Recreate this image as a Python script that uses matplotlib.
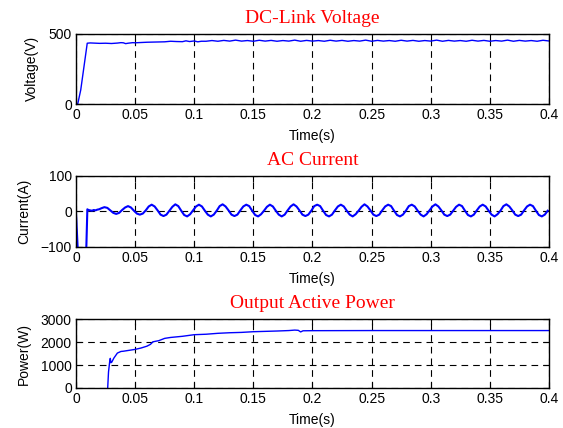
import matplotlib
matplotlib.use("Agg")
import matplotlib.pyplot as plt
import numpy as np

# --- DC-link voltage (V) ---
v_t_early = [0, 0.0015, 0.004, 0.0095, 0.012, 0.02, 0.025, 0.03, 0.035, 0.038,
             0.04, 0.042, 0.044, 0.048, 0.05, 0.055, 0.06, 0.065, 0.07, 0.075,
             0.08, 0.085, 0.09, 0.093, 0.096, 0.1, 0.103, 0.106, 0.11]
v_early = [0, 2, 100, 433, 435, 432, 433, 431, 434, 437,
           436, 430, 433, 437, 436, 438, 440, 441, 442, 443,
           447, 445, 444, 450, 445, 449, 443, 447, 447]
v_ripple = [452, 447, 453, 448, 455, 448, 452, 447, 454, 448,
            453, 447, 452, 448, 455, 447, 453, 448, 452, 447,
            454, 448, 453, 447, 452, 448, 455, 447, 453, 448,
            452, 447, 454, 448, 453, 447, 452, 448, 455, 447,
            453, 448, 452, 447, 454, 448, 453, 447, 452, 448,
            455, 447, 453, 448, 452, 447, 454, 449]

# --- AC current (A) ---
i_t_early = [0, 0.0018, 0.0085, 0.0089, 0.0096, 0.0105, 0.012, 0.0135, 0.015,
             0.0165, 0.018, 0.0195, 0.0215, 0.024, 0.0265, 0.029, 0.0315, 0.034,
             0.0365, 0.039, 0.0415, 0.044, 0.0465, 0.049, 0.0515, 0.054, 0.0565,
             0.059]
i_early = [-5, -130, -130, -80, 6, 4, 3, 2, 4,
           3, 5, 6, 9, 12, 10, 3, -4, -7,
           -4, 4, 11, 15, 11, 2, -6, -9, -6,
           3]
i_cycles = [
    [14, 19, 14, 3, -9, -13, -9, 2],
    [13, 20, 15, 2, -10, -14, -8, 3],
    [14, 19, 14, 2, -9, -14, -9, 2],
    [15, 20, 14, 3, -9, -13, -9, 3],
    [14, 19, 15, 2, -10, -14, -8, 2],
    [13, 19, 14, 2, -9, -14, -9, 3],
    [14, 20, 14, 3, -9, -13, -9, 2],
    [15, 19, 15, 2, -10, -14, -9, 3],
    [14, 19, 14, 2, -9, -14, -8, 2],
    [13, 20, 14, 3, -9, -13, -9, 3],
    [14, 19, 15, 2, -10, -14, -9, 2],
    [15, 19, 14, 2, -9, -14, -8, 3],
    [14, 20, 14, 3, -9, -13, -9, 2],
    [13, 19, 15, 2, -10, -14, -9, 3],
    [14, 19, 14, 2, -9, -14, -8, 2],
    [15, 20, 14, 3, -9, -13, -9, 3],
    [14, 19, 15, 2, -10, -14, -9, 2],
]

# --- Output active power (W) ---
p_t = [0.0268, 0.0275, 0.0285, 0.029, 0.0295, 0.0302, 0.032, 0.035, 0.038,
       0.04, 0.045, 0.05, 0.055, 0.06, 0.063, 0.065, 0.07, 0.075, 0.08,
       0.09, 0.1, 0.11, 0.12, 0.13, 0.14, 0.15, 0.16, 0.17, 0.18,
       0.185, 0.188, 0.19, 0.192, 0.2, 0.25, 0.3, 0.35, 0.4]
p_w = [0, 700, 1150, 1290, 1100, 1120, 1300, 1520, 1590,
       1600, 1640, 1680, 1740, 1820, 1900, 2010, 2060, 2160, 2200,
       2250, 2320, 2340, 2380, 2405, 2420, 2450, 2465, 2480, 2500,
       2520, 2510, 2440, 2490, 2495, 2500, 2500, 2500, 2500]

x_ticks = [0, 0.05, 0.1, 0.15, 0.2, 0.25, 0.3, 0.35, 0.4]
x_tick_labels = ["0", "0.05", "0.1", "0.15", "0.2", "0.25", "0.3", "0.35", "0.4"]

plt.rcParams["font.family"] = ["Liberation Sans", "DejaVu Sans"]
plt.rcParams["font.size"] = 10

LINE = "#0000ff"


def style(ax, yticks, ylabel, title):
    ax.set_xlim(0, 0.4)
    ax.set_ylim(yticks[0], yticks[-1])
    ax.set_xticks(x_ticks)
    ax.set_xticklabels(x_tick_labels)
    ax.set_yticks(yticks)
    ax.tick_params(direction="in", top=True, right=True, length=4, width=0.8,
                   labelsize=10, pad=3)
    ax.grid(True, color="k", linestyle=(0, (6, 4.5)), linewidth=0.8)
    for s in ax.spines.values():
        s.set_linewidth(1.0)
    ax.set_xlabel("Time(s)", labelpad=5)
    ax.set_ylabel(ylabel, labelpad=7)
    ax.set_title(title, color="red", family=["Liberation Serif"], fontsize=14, pad=8)


fig = plt.figure(figsize=(5.63, 4.28), dpi=100)
left, width = 0.135, 0.840
ax1 = fig.add_axes([left, 0.757, width, 0.164])
ax2 = fig.add_axes([left, 0.423, width, 0.166])
ax3 = fig.add_axes([left, 0.0935, width, 0.161])

v_t = v_t_early + list(np.arange(0.115, 0.4001, 0.005))
v = v_early + v_ripple
ax1.plot(v_t[:len(v)], v, color=LINE, linewidth=1.0)
style(ax1, [0, 500], "Voltage(V)", "DC-Link Voltage")

i_vals = i_early + [x for cyc in i_cycles for x in cyc]
i_t = i_t_early + list(0.0615 + 0.0025 * np.arange(len(i_vals) - len(i_early)))
ax2.plot(i_t, i_vals, color=LINE, linewidth=1.5)
style(ax2, [-100, 0, 100], "Current(A)", "AC Current")

ax3.plot(p_t, p_w, color=LINE, linewidth=1.0)
style(ax3, [0, 1000, 2000, 3000], "Power(W)", "Output Active Power")

fig.savefig("out.png", dpi=100)
